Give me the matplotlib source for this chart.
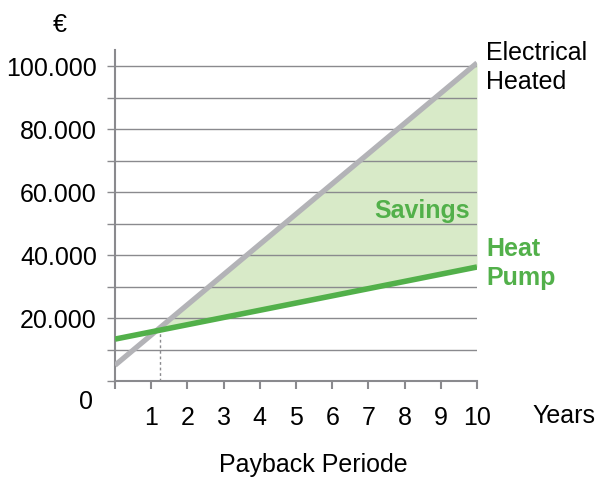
import matplotlib.pyplot as plt
import numpy as np

plt.rcParams['font.family'] = ['Liberation Sans', 'DejaVu Sans']

years = [0, 10]
electrical = [5000, 101000]
heat_pump = [13300, 36200]
payback_year = 1.25
y_ticks = [0, 10000, 20000, 30000, 40000, 50000, 60000, 70000, 80000, 90000, 100000]
y_labels = ['', '', '20.000', '', '40.000', '', '60.000', '', '80.000', '', '100.000']
x_ticks = list(range(0, 11))
x_labels = [''] + [str(i) for i in range(1, 11)]

green = '#52b04a'
gray_line = '#b3b3b7'
grid_c = '#8a8a8e'

fig = plt.figure(figsize=(5.99, 4.79), dpi=100)
ax = fig.add_axes([115/599, 1-381/479, (477-115)/599, (381-50)/479])

# break-even point of the two straight lines
ke = (electrical[1]-electrical[0])/(years[1]-years[0])
kh = (heat_pump[1]-heat_pump[0])/(years[1]-years[0])
x_cross = (heat_pump[0]-electrical[0])/(ke-kh)
xs = np.linspace(x_cross, years[1], 50)
ax.fill_between(xs, np.interp(xs, years, heat_pump), np.interp(xs, years, electrical),
                color='#d8eac8', lw=0, zorder=1)

for v in y_ticks[1:]:
    ax.axhline(v, color=grid_c, lw=1.0, zorder=2)

ax.plot(years, electrical, color=gray_line, lw=3.8, solid_capstyle='butt', zorder=4)
ax.plot(years, heat_pump, color=green, lw=4.0, solid_capstyle='butt', zorder=5)

ax.plot([payback_year, payback_year], [0, np.interp(payback_year, years, heat_pump)],
        color=grid_c, lw=1.0, ls=(0, (2, 2)), zorder=3)

ax.set_xlim(0, 10)
ax.set_ylim(0, 105100)
ax.set_xticks(x_ticks)
ax.set_xticklabels(x_labels)
ax.set_yticks(y_ticks)
ax.set_yticklabels(y_labels)
ax.tick_params(axis='y', length=6, width=1.0, color=grid_c, pad=7, labelsize=18)
ax.tick_params(axis='x', length=6, width=1.5, color=grid_c, pad=12, labelsize=18)
for s in ['top', 'right']:
    ax.spines[s].set_visible(False)
for s in ['left', 'bottom']:
    ax.spines[s].set_color(grid_c)
    ax.spines[s].set_linewidth(1.5)

fig.text(60/599, 1-25/479, '€', fontsize=18, ha='center', va='center')
ax.text(-0.8, -6800, '0', fontsize=18, ha='center', va='center')
ax.text(10.25, 99500, 'Electrical\nHeated', fontsize=18, ha='left', va='center', linespacing=1.25)
ax.text(8.47, 54000, 'Savings', fontsize=18, fontweight='bold', color=green, ha='center', va='center')
ax.text(10.25, 37300, 'Heat\nPump', fontsize=18, fontweight='bold', color=green, ha='left', va='center', linespacing=1.3)
fig.text(564/599, 1-416/479, 'Years', fontsize=18, ha='center', va='center')
fig.text(313/599, 1-465/479, 'Payback Periode', fontsize=18, ha='center', va='center')

fig.savefig('out.png', dpi=100)
